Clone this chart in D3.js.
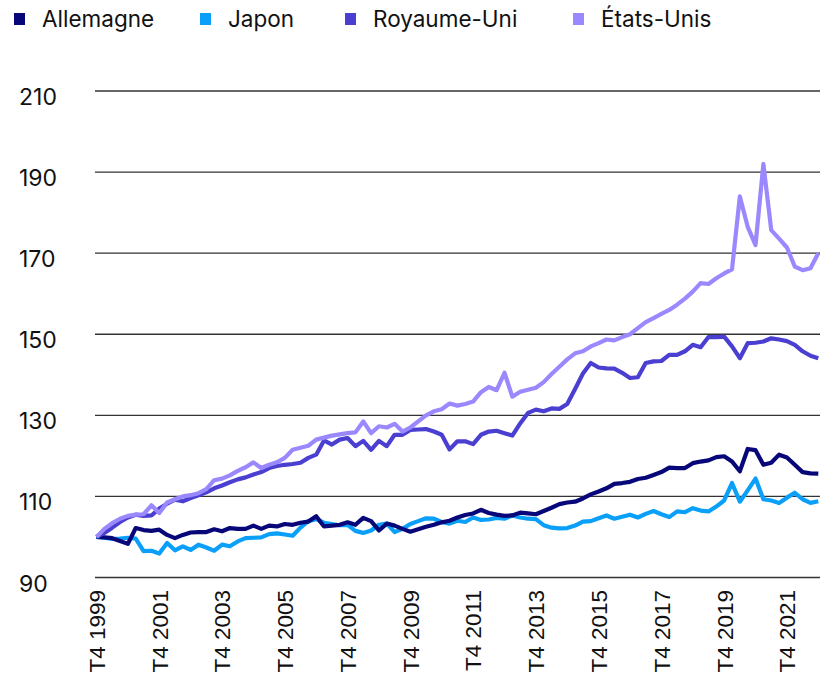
<!DOCTYPE html>
<html>
<head>
<meta charset="utf-8">
<script src="https://cdn.jsdelivr.net/npm/d3@7"></script>
<style>
  body { margin: 0; background: #fff; }
  svg { display: block; font-family: "Inter", "Roboto", sans-serif; }
</style>
</head>
<body>
<div id="chart"></div>
<script>
// quarterly index, T4 1999 = 100
const seriesNames = ["Allemagne", "Japon", "Royaume-Uni", "États-Unis"]
const seriesColors = ["#07077a", "#0aa0fa", "#4a3fd0", "#9a88ff"]

const allemagne = [100, 99.9, 99.7, 99, 98.3, 102.2, 101.7, 101.5, 101.8, 100.5,
  99.7, 100.5, 101.1, 101.2, 101.2, 101.9, 101.4, 102.2, 102, 102,
  102.8, 102, 102.8, 102.6, 103.2, 103, 103.5, 103.8, 105.1, 102.6,
  102.8, 103, 103.6, 103, 104.7, 103.9, 101.6, 103.3, 102.8, 102,
  101.3, 101.9, 102.5, 103, 103.6, 104, 104.8, 105.4, 105.8, 106.7,
  105.9, 105.5, 105.2, 105.3, 106, 105.8, 105.6, 106.4, 107.2, 108.1,
  108.5, 108.7, 109.5, 110.5, 111.2, 112, 113.1, 113.3, 113.6, 114.3,
  114.6, 115.3, 116, 117.1, 117, 117, 118.2, 118.6, 118.9, 119.7,
  119.9, 118.6, 116.2, 121.7, 121.4, 117.8, 118.3, 120.3, 119.6, 117.8,
  116, 115.7, 115.6]

const japon = [100, 99.8, 99.5, 99.6, 99.8, 99.6, 96.5, 96.6, 95.9, 98.5,
  96.7, 97.7, 96.8, 98.1, 97.4, 96.6, 98.1, 97.7, 98.9, 99.7,
  99.8, 99.9, 100.7, 100.9, 100.6, 100.3, 102.3, 103.9, 104.4, 103.5,
  103.2, 102.9, 103, 101.5, 101, 101.6, 103, 103.3, 101.2, 102,
  103.2, 103.9, 104.6, 104.5, 103.7, 103.3, 104, 103.7, 104.8, 104.2,
  104.3, 104.7, 104.5, 105.3, 104.8, 104.5, 104.4, 102.9, 102.3, 102.1,
  102.2, 102.8, 103.8, 103.9, 104.6, 105.3, 104.5, 105, 105.5, 104.8,
  105.7, 106.4, 105.6, 104.9, 106.3, 106.1, 107.1, 106.5, 106.3, 107.5,
  109, 113.3, 108.7, 111.5, 114.4, 109.3, 109, 108.4, 109.7, 110.9,
  109.3, 108.4, 108.8]

const royaumeUni = [100, 101, 102.3, 103.7, 104.8, 105.5, 105.2, 105.3, 107, 108.2,
  109.2, 108.8, 109.6, 110.3, 111, 112, 112.7, 113.5, 114.2, 114.7,
  115.4, 116, 117, 117.5, 117.8, 118, 118.3, 119.5, 120.3, 123.8,
  122.8, 124, 124.4, 122.4, 123.7, 121.5, 123.7, 122.4, 125.2, 125.2,
  126.4, 126.5, 126.6, 126, 125.2, 121.6, 123.6, 123.6, 122.9, 125.2,
  126, 126.2, 125.6, 125, 128, 130.6, 131.4, 131, 131.7, 131.6,
  132.8, 136.5, 140.3, 142.9, 141.8, 141.6, 141.5, 140.5, 139.2, 139.4,
  142.9, 143.3, 143.4, 144.9, 144.9, 145.8, 147.4, 146.8, 149.3, 149.3,
  149.4, 147, 144.1, 147.8, 147.9, 148.2, 149, 148.7, 148.3, 147.4,
  145.8, 144.7, 144.1]

const etatsUnis = [100, 102, 103.4, 104.5, 105.2, 105.5, 105.6, 107.8, 105.9, 108.5,
  109.3, 110, 110.3, 110.8, 111.8, 114, 114.4, 115.2, 116.3, 117.2,
  118.4, 117, 117.8, 118.4, 119.5, 121.5, 122, 122.5, 124, 124.5,
  125, 125.3, 125.6, 125.8, 128.5, 125.6, 127.3, 127, 127.9, 126,
  127, 128.5, 130, 131, 131.5, 132.9, 132.4, 132.8, 133.4, 135.7,
  137, 136.2, 140.5, 134.6, 135.8, 136.3, 136.8, 138.2, 140.2, 142,
  143.8, 145.3, 145.8, 147, 147.8, 148.7, 148.5, 149.3, 150, 151.5,
  153, 154, 155, 156, 157.3, 158.8, 160.5, 162.6, 162.4, 163.8,
  165, 166, 184, 176.5, 172, 192, 175.7, 173.6, 171.4, 166.7,
  165.8, 166.3, 170]

const yTicks = [90, 110, 130, 150, 170, 190, 210]
const xTickLabels = ["T4 1999", "T4 2001", "T4 2003", "T4 2005", "T4 2007", "T4 2009",
  "T4 2011", "T4 2013", "T4 2015", "T4 2017", "T4 2019", "T4 2021"]

const width = 820
const height = 686
const margin = ({top: 91, right: 0, bottom: 108, left: 95})

const series = [
  {name: seriesNames[0], color: seriesColors[0], values: allemagne},
  {name: seriesNames[1], color: seriesColors[1], values: japon},
  {name: seriesNames[2], color: seriesColors[2], values: royaumeUni},
  {name: seriesNames[3], color: seriesColors[3], values: etatsUnis}
]

const svg = d3.select("#chart").append("svg")
  .attr("width", width)
  .attr("height", height)

const x = d3.scaleLinear()
  .domain([0, allemagne.length - 1])
  .range([96.5, 818.3])

const y = d3.scaleLinear()
  .domain([90, 210])
  .range([height - margin.bottom - 0.5, margin.top])

// gridlines + y labels
const gy = svg.append("g")
gy.selectAll("line")
  .data(yTicks)
  .join("line")
  .attr("x1", margin.left)
  .attr("x2", width)
  .attr("y1", d => y(d))
  .attr("y2", d => y(d))
  .attr("stroke", "#333")
  .attr("stroke-width", 1.4)
gy.selectAll("text")
  .data(yTicks)
  .join("text")
  .attr("x", 19)
  .attr("y", d => y(d) + 6)
  .attr("dy", "0.35em")
  .attr("font-size", 23)
  .attr("fill", "#111")
  .text(d => d)

// x labels, one every 8 quarters
const xAxis = g => g
  .attr("transform", `translate(0,${height - margin.bottom})`)
  .call(d3.axisBottom(x)
    .tickValues(xTickLabels.map((d, i) => i * 8))
    .tickSize(0)
    .tickFormat((d, i) => xTickLabels[i]))
  .call(g => g.select(".domain").remove())
  .call(g => g.selectAll("text")
    .attr("font-size", 22.5)
    .attr("fill", "#111")
    .attr("text-anchor", "end")
    .attr("transform", "rotate(-90)")
    .attr("x", -12)
    .attr("y", 0)
    .attr("dy", "0.35em"))
svg.append("g").call(xAxis)

svg.append("clipPath").attr("id", "clip")
  .append("rect")
  .attr("x", margin.left - 5).attr("y", 0)
  .attr("width", width - margin.left + 5).attr("height", height)

const line = d3.line()
  .x((d, i) => x(i))
  .y(d => y(d))

const drawOrder = [1, 0, 2, 3]
svg.append("g")
  .attr("clip-path", "url(#clip)")
  .selectAll("path")
  .data(drawOrder.map(i => series[i]))
  .join("path")
  .attr("fill", "none")
  .attr("stroke", d => d.color)
  .attr("stroke-width", 4.2)
  .attr("stroke-linejoin", "round")
  .attr("d", d => line(d.values))

// legend
const legendX = [14, 200, 345, 573]
const legend = svg.append("g")
  .selectAll("g")
  .data(series)
  .join("g")
  .attr("transform", (d, i) => `translate(${legendX[i]},13)`)
legend.append("rect")
  .attr("width", 11)
  .attr("height", 12)
  .attr("fill", d => d.color)
legend.append("text")
  .attr("x", 28)
  .attr("y", 6)
  .attr("dy", "0.35em")
  .attr("font-size", 22.5)
  .attr("fill", "#111")
  .text(d => d.name)
</script>
</body>
</html>
